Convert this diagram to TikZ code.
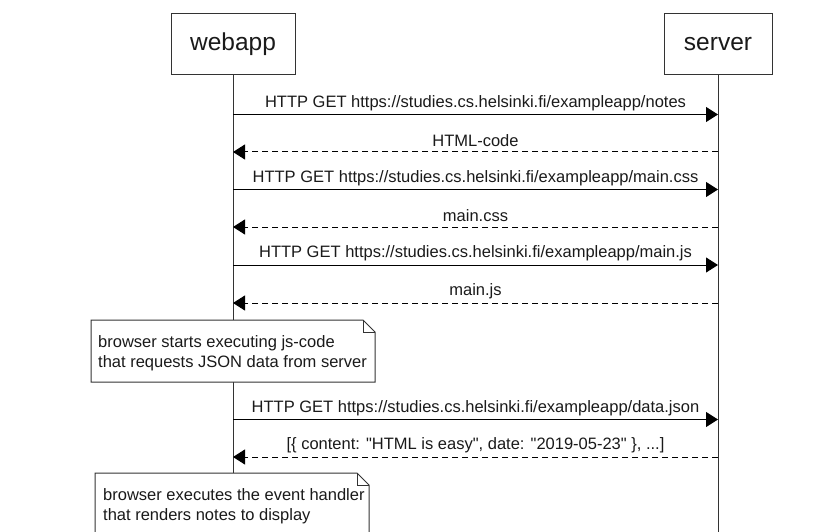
\documentclass[tikz,border=0pt]{standalone}
\usepackage{fontspec}
\setmainfont{Liberation Sans}[Ligatures=TeXOff]
\usetikzlibrary{arrows.meta,calc}
\definecolor{linec}{HTML}{333333}
\definecolor{txtc}{HTML}{1A1A1A}
\tikzset{
  actor/.style={draw=linec, line width=1pt, fill=white, minimum width=124pt, minimum height=61pt,
    inner sep=0pt, font=\fontsize{24.5}{28}\selectfont, text=txtc},
  life/.style={draw=linec, line width=1pt},
  msg/.style={draw=black, line width=1pt, -{Triangle[length=12pt,width=15pt]}},
  reply/.style={msg, dash pattern=on 6pt off 4pt},
  lbl/.style={font=\fontsize{16.5}{20}\selectfont, text=txtc, inner sep=0pt},
  notebox/.style={font=\fontsize{16.5}{20}\selectfont, text=txtc, align=left, anchor=north west},
  noteline/.style={draw=linec, line width=1pt, fill=white},
}
\begin{document}
\begin{tikzpicture}[x=1pt,y=-1pt]
\clip (0,0) rectangle (836,532);
\fill[white] (0,0) rectangle (836,532);

% actors
\node[actor] (webapp) at (233,44.5) {webapp};
\node[actor, minimum width=108pt] (server) at (718,44.5) {server};
\coordinate (wend) at (233,540);
\coordinate (send) at (718,540);
\draw[life] (webapp.south) -- (wend);
\draw[life] (server.south) -- (send);

% message anchor points
\foreach \i/\y in {1/114.5,2/152,3/189.5,4/227,5/265,6/303,7/419.5,8/457}{
  \coordinate (w\i) at (233,\y);
  \coordinate (s\i) at (718,\y);
}

\draw[msg] (w1) -- (s1) node[lbl, midway, yshift=11.5pt] {HTTP GET https://studies.cs.helsinki.fi/exampleapp/notes};
\draw[reply] (s2) -- (w2) node[lbl, midway, yshift=11.5pt] {HTML-code};
\draw[msg] (w3) -- (s3) node[lbl, midway, yshift=11.5pt] {HTTP GET https://studies.cs.helsinki.fi/exampleapp/main.css};
\draw[reply] (s4) -- (w4) node[lbl, midway, yshift=11.5pt] {main.css};
\draw[msg] (w5) -- (s5) node[lbl, midway, yshift=11.5pt] {HTTP GET https://studies.cs.helsinki.fi/exampleapp/main.js};
\draw[reply] (s6) -- (w6) node[lbl, midway, yshift=11.5pt] {main.js};
\draw[msg] (w7) -- (s7) node[lbl, midway, yshift=11.5pt] {HTTP GET https://studies.cs.helsinki.fi/exampleapp/data.json};
\draw[reply] (s8) -- (w8) node[lbl, midway, yshift=11.5pt] {[\{ content: "HTML is easy", date: "2019-05-23" \}, ...]};

% note 1
\draw[noteline] (91,320) -- (363,320) -- (375,332) -- (375,382) -- (91,382) -- cycle;
\draw[draw=linec, line width=1pt] (363,320) -- (363,332) -- (375,332);
\node[notebox, inner sep=0pt] (note1) at (98,335) {browser starts executing js-code\\that requests JSON data from server};

% note 2
\draw[noteline] (95,473) -- (357,473) -- (369,485) -- (369,540) -- (95,540) -- cycle;
\draw[draw=linec, line width=1pt] (357,473) -- (357,485) -- (369,485);
\node[notebox, inner sep=0pt] (note2) at (103,488.5) {browser executes the event handler\\that renders notes to display};
\end{tikzpicture}
\end{document}
